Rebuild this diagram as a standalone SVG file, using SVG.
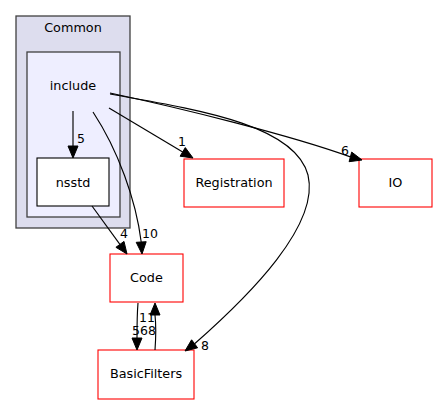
<svg xmlns="http://www.w3.org/2000/svg" width="437" height="404" viewBox="0 0 437 404">
<style>
text{font-family:"DejaVu Sans","Liberation Sans",sans-serif;font-size:12.8px;fill:#000;text-anchor:middle}
.el{font-size:12.5px}
.cl{stroke:#404040;stroke-width:1.3}
.red{fill:#fff;stroke:#ff0000;stroke-width:1.1}
.e{fill:none;stroke:#000;stroke-width:1.15}
.ah{fill:#000;stroke:#000;stroke-width:1}
</style>
<rect width="437" height="404" fill="#fff"/>
<g id="cluster_Common">
<rect class="cl" x="16" y="16" width="114" height="212" fill="#ddddee"/>
<text x="73" y="32">Common</text>
</g>
<g id="cluster_include">
<rect class="cl" x="27" y="52" width="93" height="165" fill="#eeeeff"/>
<text x="73" y="90">include</text>
</g>
<g id="node_nsstd">
<rect x="37" y="158" width="72" height="48" fill="#fff" stroke="#000" stroke-width="1.1"/>
<text x="73" y="187">nsstd</text>
</g>
<g id="node_Registration">
<rect class="red" x="184" y="159" width="100" height="48"/>
<text x="234" y="187">Registration</text>
</g>
<g id="node_IO">
<rect class="red" x="359" y="159" width="73" height="48"/>
<text x="395.5" y="187">IO</text>
</g>
<g id="node_Code">
<rect class="red" x="110" y="254" width="73" height="48"/>
<text x="146.5" y="282">Code</text>
</g>
<g id="node_BasicFilters">
<rect class="red" x="98" y="350" width="96" height="49"/>
<text x="146" y="378">BasicFilters</text>
</g>
<g id="connectors">
<path class="e" d="M73,111 L73,146"/>
<polygon class="ah" points="68,146 73,158 78,146"/>
<text class="el" x="81" y="143">5</text>

<path class="e" d="M92,206 L119.9,244.3"/>
<polygon class="ah" points="124,241.4 127,254 115.9,247.3"/>
<text class="el" x="124" y="238">4</text>

<path class="e" d="M93,112 C118,150 136,200 141.2,242"/>
<polygon class="ah" points="136.2,242.3 142,254 146.2,241.7"/>
<text class="el" x="150" y="238">10</text>

<path class="e" d="M109,108 L182.7,151.9"/>
<polygon class="ah" points="185.3,147.6 193,158 180.1,156.2"/>
<text class="el" x="182" y="146">1</text>

<path class="e" d="M110,93 C180,108 290,135 350.4,156.9"/>
<polygon class="ah" points="351.7,152.1 362,160 349.1,161.7"/>
<text class="el" x="345" y="155">6</text>

<path class="e" d="M110,94 C200,110 295,125 308,175 C320,225 250,295 194.6,343.8"/>
<polygon class="ah" points="197.6,347.8 185,351 191.6,339.8"/>
<text class="el" x="205" y="350">8</text>

<path class="e" d="M138,303 C137,315 137,328 137,338"/>
<polygon class="ah" points="132,338 137,350 142,338"/>
<text class="el" x="144" y="335">568</text>

<path class="e" d="M155,350 C156,336 156,324 155,315"/>
<polygon class="ah" points="150,315 155,303 160,315"/>
<text class="el" x="147" y="322">11</text>
</g>
</svg>
